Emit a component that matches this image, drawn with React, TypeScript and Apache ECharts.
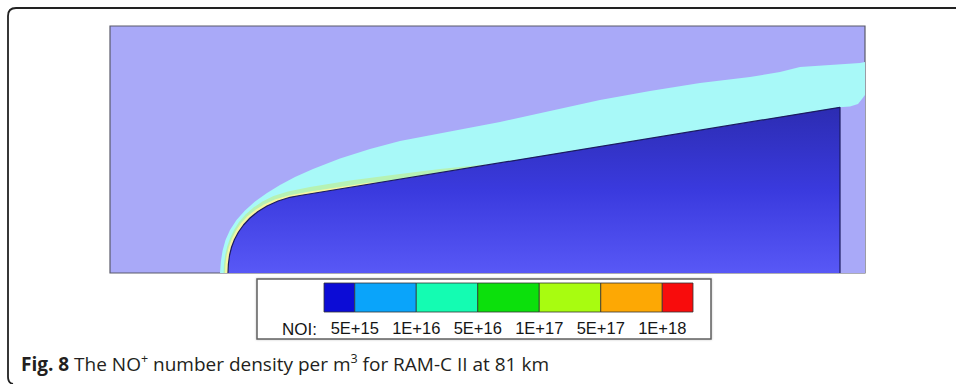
import React, { useEffect, useRef } from "react";
import * as echarts from "echarts";

// Contour boundaries (x, r) in plot units (1 unit = 5 px at this size)
const shockOuter: number[][] = [
  [22, 0], [22.16, 2.2], [22.5, 4.4], [23.1, 6.6], [24, 8.6], [25.3, 10.6], [27, 12.5],
  [29, 14.3], [31.4, 16], [34, 17.6], [37, 19.2], [40.6, 20.8], [46, 22.9], [52, 24.8],
  [58, 26.4], [68, 28.3], [78, 30.2], [88, 32.4], [98, 34.6], [108, 36.4], [118, 38],
  [128, 39.2], [134, 40.2], [138, 41.2], [144, 41.6], [150, 42], [151, 42.2],
];
const greenLayer: number[][] = [
  [22.7, 0], [22.8, 1.8], [23.04, 3.6], [23.44, 5.3], [24.0, 6.9], [24.8, 8.6], [25.8, 10.2],
  [27.1, 11.7], [28.7, 13.1], [30.5, 14.3], [32.7, 15.4], [35.6, 16.3], [40, 17.2], [48, 18.5],
  [58, 19.8], [66, 20.8], [72, 21.4], [75, 21.68],
];
const yellowLayer: number[][] = [
  [23.0, 0], [23.1, 1.8], [23.34, 3.6], [23.76, 5.2], [24.35, 6.8], [25.15, 8.4], [26.15, 9.9],
  [27.5, 11.35], [29.1, 12.65], [30.9, 13.75], [33.1, 14.75], [36, 15.56], [40, 16.3], [46, 17.2],
  [52, 18.1], [54, 18.08],
];
const wakeEdge: number[][] = [
  [146, 33.14], [148, 33.3], [149.6, 33.8], [150.4, 34.8], [151, 35.6],
];
const bodySurface: number[][] = [
  [23.6, 0], [23.68, 1.8], [23.92, 3.6], [24.32, 5.2], [24.9, 6.7], [25.7, 8.2], [26.7, 9.6],
  [28, 11], [29.6, 12.3], [31.4, 13.4], [33.6, 14.4], [36, 15.14], [38, 15.5], [146, 33.14],
  [146, 0],
];

// Legend (contour levels)
const levelLabels = ["5E+15", "1E+16", "5E+16", "1E+17", "5E+17", "1E+18"];
const levelColors = ["#0c0cd6", "#0aa4fa", "#14fcb2", "#0ce00c", "#a8fc10", "#fda804", "#f80c0c"];

const BG = "#a9a9f8";

export default function App() {
  const ref = useRef<HTMLDivElement>(null);
  useEffect(() => {
    if (!ref.current) return;
    echarts.graphic.registerShape(
      "frameLine",
      echarts.graphic.extendPath("M956,8 L16,8 Q8,8 8,16 L8,377 Q8,383 13,384", {})
    );
    const chart = echarts.init(ref.current, null, { renderer: "svg" });

    const cells = levelColors.map((_, i) => [Math.max(0, 2 * i - 1), Math.min(12, 2 * i + 1), i]);

    const areaSeries = (data: number[][], color: any, line?: any) => ({
      type: "line",
      xAxisIndex: 0,
      yAxisIndex: 0,
      data,
      symbol: "none",
      smooth: false,
      silent: true,
      lineStyle: line || { width: 0, opacity: 0 },
      areaStyle: { color, opacity: 1, origin: "start" },
    });

    chart.setOption({
      animation: false,
      backgroundColor: "#ffffff",
      grid: [
        {
          left: 110, top: 26, width: 755, height: 247, show: true,
          backgroundColor: BG, borderColor: "#5a5a6a", borderWidth: 1.2, containLabel: false,
        },
        { left: 324, top: 283, width: 369, height: 29, containLabel: false },
      ],
      xAxis: [
        { type: "value", gridIndex: 0, min: 0, max: 151, show: false },
        {
          type: "value", gridIndex: 1, min: 0, max: 12, interval: 1,
          axisLine: { show: false }, axisTick: { show: false }, splitLine: { show: false },
          axisLabel: {
            show: true, interval: 0, margin: 7, fontSize: 16.5, color: "#151515",
            fontFamily: "Liberation Sans",
            formatter: (v: number) => (v % 2 === 1 ? levelLabels[(v - 1) / 2] : ""),
          },
        },
      ],
      yAxis: [
        { type: "value", gridIndex: 0, min: 0, max: 49.4, show: false },
        { type: "value", gridIndex: 1, min: 0, max: 1, show: false },
      ],
      series: [
        areaSeries(shockOuter, "#a8f9f8"),
        areaSeries(greenLayer, "#b6f2b4"),
        areaSeries(yellowLayer, "#f6f6a2"),
        areaSeries(wakeEdge, BG),
        areaSeries(
          bodySurface,
          new echarts.graphic.LinearGradient(0, 0, 0, 1, [
            { offset: 0, color: "#2c2cb2" },
            { offset: 0.5, color: "#3a3ade" },
            { offset: 1, color: "#5858f6" },
          ]),
          { width: 1.2, color: "#1c1c60" }
        ),
        {
          type: "custom",
          xAxisIndex: 1,
          yAxisIndex: 1,
          data: cells,
          silent: true,
          clip: false,
          encode: { x: [0, 1] },
          renderItem: (params: any, api: any) => {
            const s = api.value(0);
            const e = api.value(1);
            const ci = api.value(2);
            const p0 = api.coord([s, 1]);
            const p1 = api.coord([e, 0]);
            return {
              type: "rect",
              shape: { x: p0[0], y: p0[1], width: p1[0] - p0[0], height: p1[1] - p0[1] },
              style: { fill: levelColors[ci], stroke: "#333", lineWidth: 0.8 },
            };
          },
        },
      ],
      graphic: [
        {
          type: "frameLine", x: 0, y: 0, silent: true,
          style: { fill: "none", stroke: "#222", lineWidth: 1.8 },
        },
        {
          type: "rect", z: -1, silent: true,
          shape: { x: 257, y: 279, width: 454, height: 60 },
          style: { fill: "#ffffff", stroke: "#606060", lineWidth: 1.5, shadowColor: "rgba(0,0,0,0.25)", shadowBlur: 2 },
        },
        {
          type: "text", silent: true, x: 282, y: 329,
          style: {
            text: "NOI:", fontSize: 17, fontFamily: "Liberation Sans", fill: "#151515",
            verticalAlign: "middle", align: "left",
          },
        },
        {
          type: "text", silent: true, x: 21, y: 364,
          style: {
            text: "{b|Fig. 8} The NO{s|+} number density per m{s|3} for RAM-C II at 81 km",
            fontSize: 19, fontFamily: "Open Sans", fill: "#231f20",
            verticalAlign: "middle", align: "left",
            rich: {
              b: { fontSize: 19, fontFamily: "Open Sans", fontWeight: "bold", fill: "#231f20", lineHeight: 24 },
              s: { fontSize: 12.5, fontFamily: "Open Sans", fill: "#231f20", lineHeight: 11, verticalAlign: "top" },
            },
            lineHeight: 24,
          },
        },
      ],
    });
    return () => chart.dispose();
  }, []);
  return (
    <div
      ref={ref}
      style={{ position: "fixed", left: 0, top: 0, width: 956, height: 384, background: "#fff" }}
    />
  );
}
